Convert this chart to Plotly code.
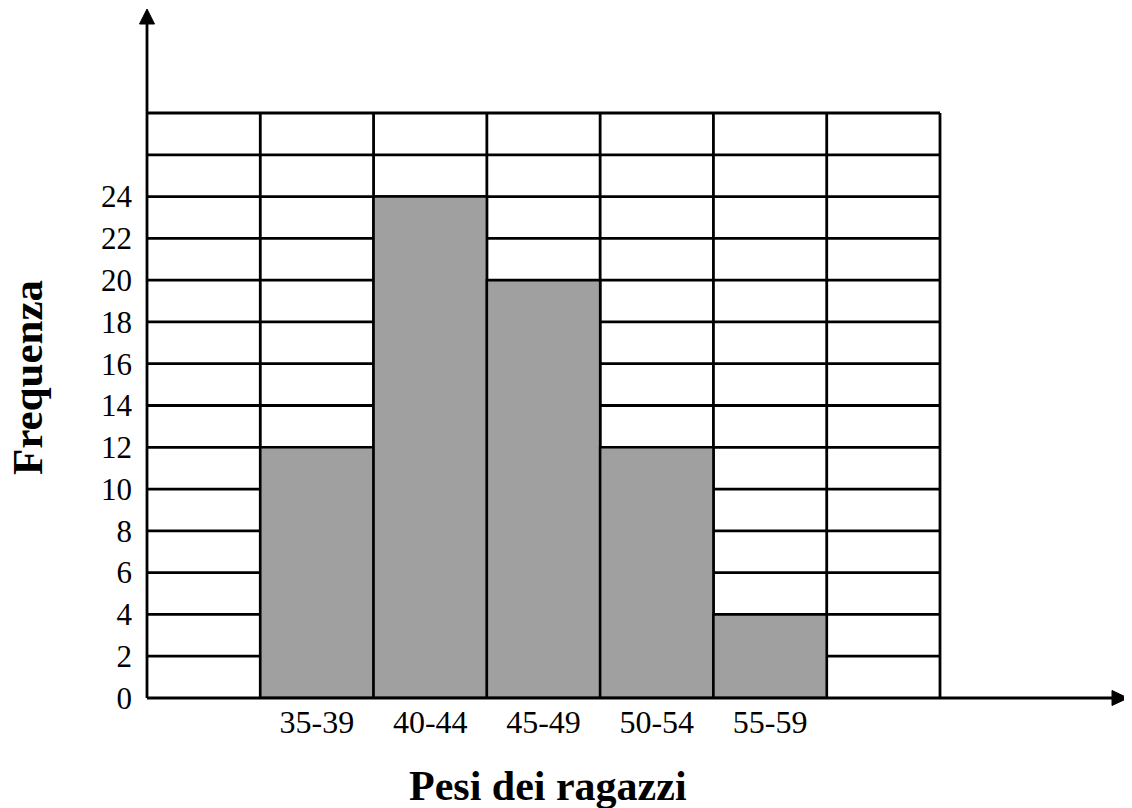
import plotly.graph_objects as go

categories = ["35-39", "40-44", "45-49", "50-54", "55-59"]
frequencies = [12, 24, 20, 12, 4]
y_ticks = list(range(0, 26, 2))
grid_top = 28
grid_step = 2
n_cols = len(categories) + 2  # one empty column each side

# page offset from default body margin
OFF = 8
W, H = 1132 - OFF, 808 - OFF
# pixel geometry (page coords minus offset)
L, R, T, B = 147 - OFF, 1128 - OFF, 9 - OFF, 698 - OFF
col_px = (940 - 147) / n_cols
unit_px = (698 - 113) / grid_top
x_max = (R - L) / col_px
y_max = (B - T) / unit_px
pw, ph = R - L, B - T

x_pos = [i + 1.5 for i in range(len(categories))]

fig = go.Figure()
fig.add_trace(go.Bar(
    x=x_pos, y=frequencies, width=1.0,
    marker=dict(color="#a0a0a0", line=dict(color="black", width=2.5)),
    hoverinfo="skip",
))

LW = 2.8
shapes = []
for k in range(grid_step, grid_top + 1, grid_step):
    shapes.append(dict(type="line", xref="x", yref="y", x0=0, x1=n_cols, y0=k, y1=k,
                       line=dict(color="black", width=LW), layer="below"))
for c in range(1, n_cols + 1):
    shapes.append(dict(type="line", xref="x", yref="y", x0=c, x1=c, y0=0, y1=grid_top,
                       line=dict(color="black", width=LW), layer="below"))
# axis lines and arrowheads in paper coordinates
ah_len_y = 15 / ph
ah_half_x = 7.5 / pw
ah_len_x = 16 / pw
ah_half_y = 7.5 / ph
shapes.append(dict(type="line", xref="paper", yref="paper", x0=0, x1=0, y0=0, y1=1 - ah_len_y,
                   line=dict(color="black", width=LW)))
shapes.append(dict(type="line", xref="paper", yref="paper", x0=0, x1=1 - ah_len_x, y0=0, y1=0,
                   line=dict(color="black", width=LW)))
shapes.append(dict(type="path", xref="paper", yref="paper",
                   path=f"M {-ah_half_x} {1 - ah_len_y} L {ah_half_x} {1 - ah_len_y} L 0 1 Z",
                   fillcolor="black", line=dict(color="black", width=1)))
shapes.append(dict(type="path", xref="paper", yref="paper",
                   path=f"M {1 - ah_len_x} {-ah_half_y} L {1 - ah_len_x} {ah_half_y} L 1 0 Z",
                   fillcolor="black", line=dict(color="black", width=1)))

serif = "Liberation Serif, Times New Roman, serif"

fig.update_layout(
    width=W, height=H,
    margin=dict(l=L, r=W - R, t=T, b=H - B),
    paper_bgcolor="white", plot_bgcolor="white",
    showlegend=False,
    shapes=shapes,
    xaxis=dict(range=[0, x_max], tickmode="array", tickvals=x_pos, ticktext=categories,
               showgrid=False, zeroline=False, showline=False, ticks="",
               tickfont=dict(family=serif, size=32, color="black"), ticklabelstandoff=2),
    yaxis=dict(range=[0, y_max], tickmode="array", tickvals=y_ticks,
               ticktext=[str(v) for v in y_ticks],
               showgrid=False, zeroline=False, showline=False, ticks="",
               tickfont=dict(family=serif, size=31, color="black"), ticklabelstandoff=14),
    annotations=[
        dict(text="<b>Pesi dei ragazzi</b>", xref="paper", yref="paper",
             x=(548 - OFF - L) / pw, y=-(786 - OFF - B) / ph, xanchor="center", yanchor="middle",
             showarrow=False, font=dict(family=serif, size=42, color="black")),
        dict(text="<b>Frequenza</b>", xref="paper", yref="paper",
             x=-(L - (28 - OFF)) / pw, y=(B - (378 - OFF)) / ph, xanchor="center", yanchor="middle",
             textangle=-90, showarrow=False, font=dict(family=serif, size=43, color="black")),
    ],
)

fig.write_html("out.html")
